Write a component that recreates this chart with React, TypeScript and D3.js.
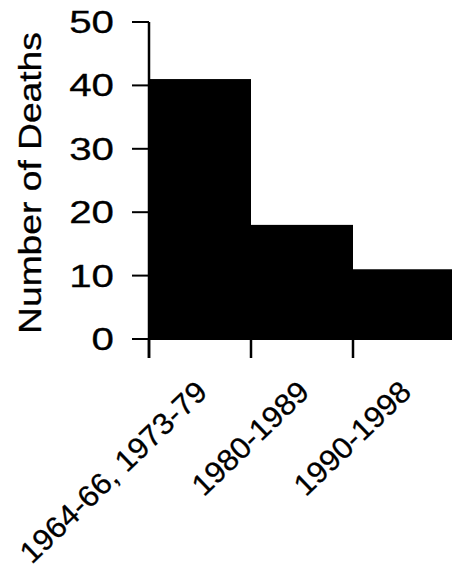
import React from "react";
import * as d3 from "d3";

const categories = ["1964-66, 1973-79", "1980-1989", "1990-1998"];
const deaths = [41, 18, 11];
const yTicks = [0, 10, 20, 30, 40, 50];
const yTitle = "Number of Deaths";

const W = 452;
const H = 573;

export default function App() {
  const x = d3.scaleBand<string>().domain(categories).range([149, 455]).paddingInner(0).paddingOuter(0);
  const y = d3.scaleLinear().domain([0, 50]).range([339, 22]);
  const font = "'Liberation Sans', Arial, Helvetica, sans-serif";
  const y0 = y(0);
  const boundaries = categories.map((c) => x(c) as number);
  const textStroke = { stroke: "#000", strokeWidth: 0.3 };

  return (
    <svg
      width={W}
      height={H}
      viewBox={`0 0 ${W} ${H}`}
      style={{ position: "absolute", left: 0, top: 0, background: "#fff" }}
    >
      <rect x={0} y={0} width={W} height={H} fill="#fff" />
      {/* bars */}
      {categories.map((c, i) => (
        <rect
          key={c}
          x={x(c) as number}
          y={y(deaths[i])}
          width={x.bandwidth()}
          height={y0 - y(deaths[i])}
          fill="#000"
        />
      ))}
      {/* y axis */}
      <line x1={149} x2={149} y1={y(50)} y2={y0 + 19} stroke="#000" strokeWidth={2.5} />
      {yTicks.map((t) => (
        <g key={t}>
          <line x1={132} x2={149} y1={y(t)} y2={y(t)} stroke="#000" strokeWidth={2} />
          <text
            transform={`translate(114, ${y(t) + 11}) scale(1.3, 1)`}
            textAnchor="end"
            fontFamily={font}
            fontSize={31}
            fill="#000"
            {...textStroke}
          >
            {t}
          </text>
        </g>
      ))}
      {/* x axis */}
      <line x1={149} x2={W} y1={y0} y2={y0} stroke="#000" strokeWidth={2} />
      {boundaries.map((b, i) => (
        <line key={i} x1={b} x2={b} y1={y0} y2={y0 + 19} stroke="#000" strokeWidth={2.5} />
      ))}
      {categories.map((c) => (
        <text
          key={c}
          transform={`translate(${(x(c) as number) + x.bandwidth() / 2 + 9}, ${y0 + 55}) rotate(-44) scale(1.04, 1)`}
          textAnchor="end"
          fontFamily={font}
          fontSize={30}
          fill="#000"
          {...textStroke}
        >
          {c}
        </text>
      ))}
      {/* y title */}
      <text
        transform={`translate(41, 183) rotate(-90) scale(1.2, 1)`}
        textAnchor="middle"
        fontFamily={font}
        fontSize={31}
        fill="#000"
        {...textStroke}
      >
        {yTitle}
      </text>
    </svg>
  );
}
